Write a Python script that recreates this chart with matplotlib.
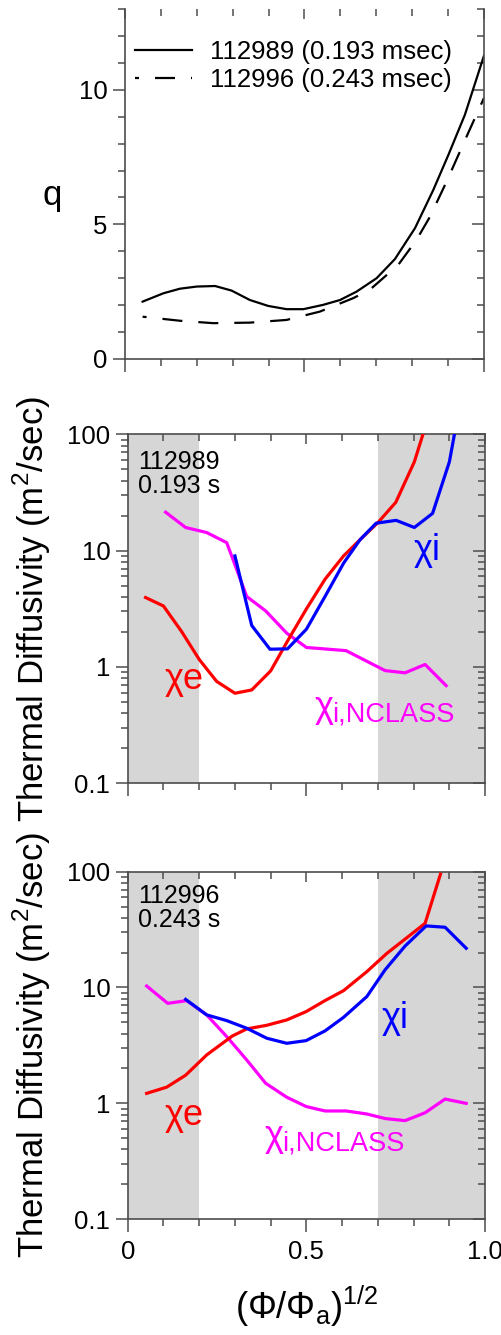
import numpy as np
import matplotlib
matplotlib.use("Agg")
import matplotlib.pyplot as plt
from matplotlib.ticker import MultipleLocator, LogLocator, FixedLocator, NullFormatter, FixedFormatter

plt.rcParams['font.family'] = ['Liberation Sans', 'DejaVu Sans']
plt.rcParams['mathtext.fontset'] = 'custom'
plt.rcParams['mathtext.rm'] = 'Liberation Sans'

# ---- q profiles (top panel) ----
q_x_112989 = [0.049, 0.107, 0.153, 0.20, 0.251, 0.297, 0.348, 0.399, 0.450, 0.497,
              0.552, 0.599, 0.645, 0.701, 0.752, 0.808, 0.859, 0.901, 0.947, 1.0]
q_112989 = [2.13, 2.44, 2.61, 2.69, 2.71, 2.54, 2.19, 1.97, 1.85, 1.85,
            2.01, 2.19, 2.50, 3.00, 3.71, 4.86, 6.28, 7.58, 9.07, 11.26]
q_x_112996 = [0.049, 0.153, 0.246, 0.348, 0.450, 0.543, 0.636, 0.682, 0.761,
              0.812, 0.850, 0.896, 0.952, 1.0]
q_112996 = [1.57, 1.42, 1.33, 1.35, 1.45, 1.76, 2.26, 2.57, 3.49,
            4.42, 5.29, 6.59, 8.27, 9.69]
legend_labels = ["112989 (0.193 msec)", "112996 (0.243 msec)"]

# ---- shot 112989, 0.193 s (middle panel) ----
a_xe_x = [0.050, 0.100, 0.151, 0.200, 0.249, 0.300, 0.347, 0.400, 0.450, 0.501,
          0.552, 0.604, 0.650, 0.700, 0.750, 0.802, 0.850]
a_xe = [3.95, 3.34, 2.01, 1.16, 0.75, 0.594, 0.634, 0.925, 1.73, 3.19,
        5.67, 9.0, 12.4, 17.4, 26.0, 58.0, 172.0]
a_xi_x = [0.300, 0.347, 0.398, 0.447, 0.500, 0.552, 0.604, 0.650, 0.695, 0.751,
          0.802, 0.853, 0.900, 0.950]
a_xi = [9.0, 2.27, 1.42, 1.43, 2.11, 4.03, 7.8, 12.4, 17.2, 18.2,
        15.8, 20.9, 58.0, 400.0]
a_xnc_x = [0.106, 0.162, 0.221, 0.277, 0.333, 0.386, 0.445, 0.500, 0.611, 0.720,
           0.776, 0.832, 0.891]
a_xnc = [21.4, 15.8, 14.3, 11.7, 4.03, 3.03, 1.95, 1.47, 1.38, 0.93,
         0.89, 1.05, 0.69]

# ---- shot 112996, 0.243 s (bottom panel) ----
b_xe_x = [0.053, 0.109, 0.162, 0.221, 0.293, 0.333, 0.389, 0.445, 0.499, 0.552,
          0.604, 0.669, 0.725, 0.779, 0.832, 0.875]
b_xe = [1.22, 1.38, 1.75, 2.62, 3.82, 4.39, 4.72, 5.25, 6.19, 7.71,
        9.4, 13.7, 19.7, 26.6, 35.8, 95.0]
b_xi_x = [0.162, 0.221, 0.277, 0.333, 0.389, 0.445, 0.499, 0.552, 0.604, 0.669,
          0.720, 0.776, 0.835, 0.888, 0.947]
b_xi = [7.9, 5.8, 5.18, 4.45, 3.65, 3.30, 3.48, 4.22, 5.53, 8.35,
        14.2, 22.8, 34.0, 33.1, 21.8]
b_xnc_x = [0.053, 0.112, 0.165, 0.221, 0.277, 0.333, 0.386, 0.445, 0.499, 0.552,
           0.611, 0.669, 0.720, 0.776, 0.832, 0.888, 0.947]
b_xnc = [10.3, 7.3, 7.7, 5.8, 3.77, 2.37, 1.49, 1.13, 0.94, 0.86,
         0.86, 0.81, 0.74, 0.71, 0.83, 1.09, 1.0]

# shaded regions in (Phi/Phi_a)^1/2
shade_regions = [(0.0, 0.2), (0.7, 1.0)]

SPINE = "#4d4d4d"
TICK_FS = 18.5


def style_frame(ax, top_spine=True):
    for s in ax.spines.values():
        s.set_color(SPINE)
        s.set_linewidth(1.2)
    ax.spines['top'].set_visible(top_spine)
    ax.tick_params(which='both', color=SPINE, width=1.1, labelsize=TICK_FS,
                   top=False, right=False, direction='out')
    ax.tick_params(which='major', length=9)
    ax.tick_params(which='minor', length=5)
    ax.xaxis.set_major_locator(MultipleLocator(0.5))
    ax.xaxis.set_minor_locator(MultipleLocator(0.1))
    # inward ticks on top and right
    sec_x = ax.secondary_xaxis('top', functions=(lambda v: v, lambda v: v))
    sec_x.xaxis.set_major_locator(MultipleLocator(0.5))
    sec_x.xaxis.set_minor_locator(MultipleLocator(0.1))
    sec_x.tick_params(which='both', direction='in', color=SPINE, width=1.1, labeltop=False)
    sec_x.tick_params(which='major', length=7)
    sec_x.tick_params(which='minor', length=5)
    sec_x.spines['top'].set_visible(False)
    sec_y = ax.secondary_yaxis('right', functions=(lambda v: v, lambda v: v))
    sec_y.tick_params(which='both', direction='in', color=SPINE, width=1.1, labelright=False)
    sec_y.tick_params(which='major', length=9)
    sec_y.tick_params(which='minor', length=5)
    sec_y.spines['right'].set_visible(False)
    return sec_y


fig = plt.figure(figsize=(5.02, 13.35), dpi=100)

# ---------------- top panel: q ----------------
ax_q = fig.add_axes([0.249, 0.7311, 0.715, 0.2622])
l1, = ax_q.plot(q_x_112989, q_112989, color='black', lw=1.6)
l2, = ax_q.plot(q_x_112996, q_112996, color='black', lw=1.6,
                linestyle=(7.2, (9.0, 7.2)))
ax_q.set_xlim(0, 1)
ax_q.set_ylim(0, 13)
sec = style_frame(ax_q, top_spine=False)
ax_q.yaxis.set_major_locator(MultipleLocator(5))
ax_q.yaxis.set_minor_locator(MultipleLocator(1))
sec.yaxis.set_major_locator(MultipleLocator(5))
sec.yaxis.set_minor_locator(MultipleLocator(1))
ax_q.tick_params(labelbottom=False)
ax_q.set_ylabel("q", fontsize=25, rotation=0, labelpad=0)
ax_q.yaxis.set_label_coords(-0.203, 0.42)
ax_q.legend([l1, l2], legend_labels, loc='upper left', frameon=False,
            bbox_to_anchor=(0.028, 0.91), borderaxespad=0, borderpad=0,
            fontsize=18.5, handlelength=2.2, handletextpad=0.7, labelspacing=0.15)


def chi_panel(ax, xe_x, xe, xi_x, xi, xnc_x, xnc, shot_text, pos):
    for lo, hi in shade_regions:
        ax.axvspan(lo, hi, color='#d6d6d6', lw=0, zorder=0)
    ax.plot(xnc_x, xnc, color='#ff00ff', lw=2.3, zorder=2)
    ax.plot(xe_x, xe, color='#ff0000', lw=2.3, zorder=3)
    ax.plot(xi_x, xi, color='#0000ff', lw=2.3, zorder=3)
    ax.set_xlim(0, 1)
    ax.set_yscale('log')
    ax.set_ylim(0.1, 100)
    sec = style_frame(ax, top_spine=True)
    for a in (ax, sec):
        a.yaxis.set_major_locator(FixedLocator([0.1, 1, 10, 100]))
        a.yaxis.set_minor_locator(LogLocator(base=10, subs=np.arange(2, 10)))
        a.yaxis.set_minor_formatter(NullFormatter())
    ax.yaxis.set_major_formatter(FixedFormatter(['0.1', '1', '10', '100']))
    sec.yaxis.set_major_formatter(NullFormatter())
    ax.set_ylabel("Thermal Diffusivity (m$^{\\mathregular{2}}$/sec)", fontsize=25,
                  labelpad=0)
    ax.yaxis.set_label_coords(-0.21, 0.5)
    ax.text(0.03, pos['shot_y'], shot_text, transform=ax.transAxes, fontsize=18,
            va='top', ha='left', linespacing=1.0)
    ax.text(pos['xe'][0], pos['xe'][1], "\u03c7e", color='#ff0000', fontsize=26,
            transform=ax.transAxes, va='baseline')
    ax.text(pos['xi'][0], pos['xi'][1], "\u03c7i", color='#0000ff', fontsize=26,
            transform=ax.transAxes, va='baseline')
    cx, cy = pos['nc']
    ax.text(cx, cy, "\u03c7", color='#ff00ff', fontsize=26,
            transform=ax.transAxes, va='baseline')
    ax.text(cx + 0.048, cy - 0.012, "i,NCLASS", color='#ff00ff', fontsize=19.5,
            transform=ax.transAxes, va='baseline')


ax_a = fig.add_axes([0.2544, 0.4133, 0.712, 0.2614])
chi_panel(ax_a, a_xe_x, a_xe, a_xi_x, a_xi, a_xnc_x, a_xnc, "112989\n0.193 s",
          {'shot_y': 0.955, 'xe': (0.104, 0.27), 'xi': (0.80, 0.64), 'nc': (0.524, 0.19)})
ax_a.tick_params(labelbottom=False)

ax_b = fig.add_axes([0.2544, 0.0867, 0.712, 0.2604])
chi_panel(ax_b, b_xe_x, b_xe, b_xi_x, b_xi, b_xnc_x, b_xnc, "112996\n0.243 s",
          {'shot_y': 0.965, 'xe': (0.103, 0.27), 'xi': (0.711, 0.55), 'nc': (0.384, 0.21)})
ax_b.xaxis.set_major_formatter(FixedFormatter(['0', '0.5', '1.0']))
ax_b.xaxis.set_major_locator(FixedLocator([0, 0.5, 1.0]))
ax_b.tick_params(axis='x', pad=6)
ax_b.set_xlabel("(\u03a6/\u03a6$_{\\mathregular{a}}$)$^{\\mathregular{1/2}}$", fontsize=26,
                labelpad=14)

fig.savefig("out.png", dpi=100)
